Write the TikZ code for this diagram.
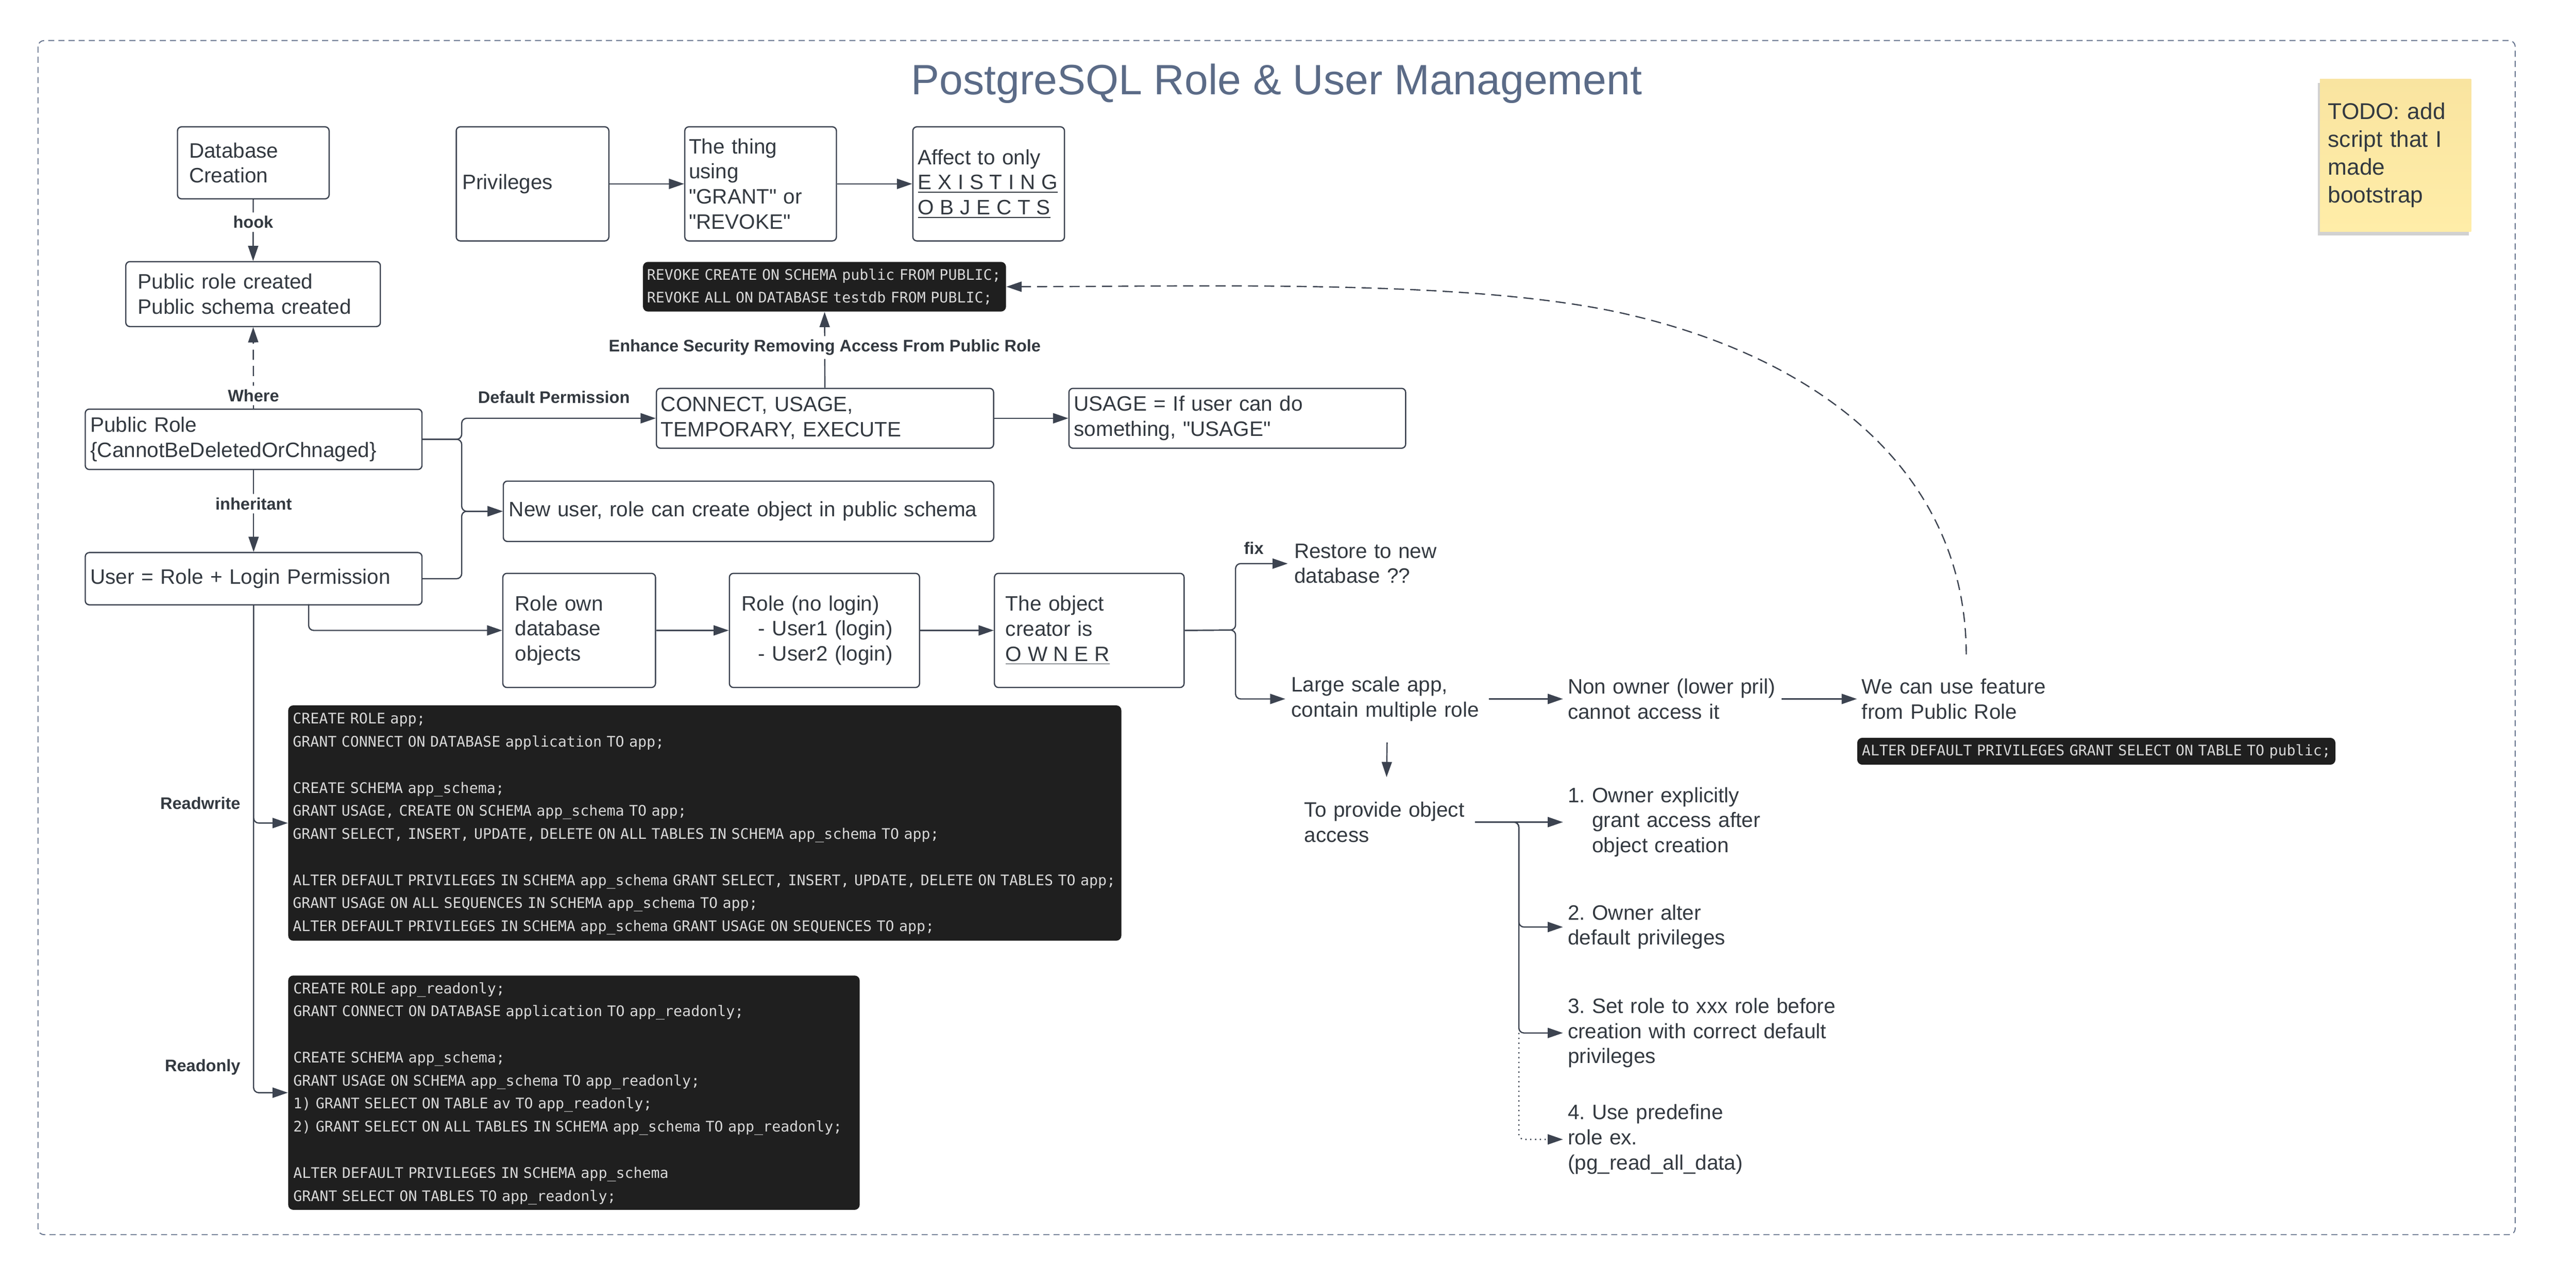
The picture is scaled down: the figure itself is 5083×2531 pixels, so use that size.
\documentclass[tikz,border=0pt]{standalone}
\usepackage{fontspec}
\setmainfont{Liberation Sans}
\newfontfamily\codefam{DejaVu Sans Mono}
\usetikzlibrary{arrows.meta,shadows}
\definecolor{lc}{HTML}{3C4350}
\definecolor{tc}{HTML}{333940}
\definecolor{cbg}{HTML}{1F1F1F}
\definecolor{ctc}{HTML}{D8D8D8}
\definecolor{titc}{HTML}{5B6B87}
\definecolor{frc}{HTML}{62708A}
\definecolor{notetop}{RGB}{249,228,160}
\definecolor{notebot}{RGB}{255,237,168}
\newcommand{\bodyf}{\frenchspacing\fontsize{11.7pt}{14.1pt}\selectfont}
\newcommand{\lblf}{\fontsize{9.4pt}{11pt}\selectfont\bfseries}
\newcommand{\codef}{\codefam\fontsize{8.18pt}{12.94pt}\selectfont}
\newcommand{\titlef}{\fontsize{23.8pt}{28pt}\selectfont}
\newcommand{\notef}{\fontsize{12.8pt}{15.65pt}\selectfont}
\newcommand{\cl}[1]{\begin{tabular}{@{}l@{}}#1\end{tabular}}
\newcommand{\q}{\textquotedbl}
\newcommand{\lsp}{\hspace{0.29em}}
\tikzset{
  box/.style={draw=lc, line width=0.7pt, rounded corners=0.08cm, text=tc, font=\bodyf, align=left, inner ysep=0pt, anchor=north west},
  code/.style={fill=cbg, rounded corners=0.1cm, text=ctc, font=\codef, align=left, inner ysep=0pt, anchor=north west},
  txt/.style={font=\bodyf, text=tc, align=left, inner ysep=0pt},
  lbl/.style={font=\lblf, text=tc, inner sep=2pt},
  onl/.style={lbl, fill=white},
  arr/.style={draw=lc, line width=0.7pt, -{Triangle[length=0.3cm,width=0.2cm]}, rounded corners=0.1cm},
  arrc/.style={draw=lc, line width=0.7pt, -{Triangle[length=0.3cm,width=0.2cm]}},
  dsh/.style={dash pattern=on 0.2cm off 0.12cm},
  frame/.style={draw=frc, line width=0.55pt, dash pattern=on 0.12cm off 0.08cm, rounded corners=0.12cm},
  note/.style={top color=notetop, bottom color=notebot, draw=none, text=tc, font=\notef, align=left, inner ysep=0pt, anchor=north west,
    drop shadow={shadow xshift=-0.04cm, shadow yshift=-0.08cm, opacity=0.18, fill=black}},
}
\begin{document}
\begin{tikzpicture}[x=0.01cm,y=-0.01cm]
\useasboundingbox (0,0) rectangle (5083,2531);
\fill[white] (0,0) rectangle (5083,2531);
\draw[frame] (75,80) rectangle (4963,2436);
\node[font=\titlef, text=titc, anchor=base] (title) at (2519,187) {PostgreSQL Role \& User Management};

% boxes
\node[box, minimum width=2.99cm, minimum height=1.42cm, text width=2.53cm, inner xsep=0.23cm] (dbc) at (349,249) {Database\\Creation};
\node[box, minimum width=5.02cm, minimum height=1.28cm, text width=4.54cm, inner xsep=0.24cm] (puc) at (247,515) {Public role created\\Public schema created};
\node[box, minimum width=6.64cm, minimum height=1.19cm, text width=6.44cm, inner xsep=0.10cm] (pr) at (167,806) {Public Role\\\{CannotBeDeletedOrChnaged\}};
\node[box, minimum width=6.64cm, minimum height=1.03cm, text width=6.44cm, inner xsep=0.10cm] (usr) at (167,1089) {User = Role + Login Permission};
\node[box, minimum width=3.01cm, minimum height=2.25cm, text width=2.77cm, inner xsep=0.12cm] (priv) at (899,249) {Privileges};
\node[box, minimum width=2.99cm, minimum height=2.25cm, text width=2.83cm, inner xsep=0.08cm] (thing) at (1350,249) {The thing\\using\\\q GRANT\q{} or\\\q REVOKE\q};
\node[box, minimum width=2.99cm, minimum height=2.25cm, text width=2.79cm, inner xsep=0.10cm] (aff) at (1800,249) {Affect to only\\\underline{E\lsp X\lsp I\lsp S\lsp T\lsp I\lsp N\lsp G}\\\underline{O\lsp B\lsp J\lsp E\lsp C\lsp T\lsp S}};
\node[code, minimum width=7.16cm, minimum height=0.98cm, text width=7.00cm, inner xsep=0.08cm] (rev) at (1268,516) {\cl{REVOKE CREATE ON SCHEMA public FROM PUBLIC;\\REVOKE ALL ON DATABASE testdb FROM PUBLIC;}};
\node[box, minimum width=6.65cm, minimum height=1.18cm, text width=6.47cm, inner xsep=0.09cm] (con) at (1294,765) {CONNECT, USAGE,\\TEMPORARY, EXECUTE};
\node[box, minimum width=6.64cm, minimum height=1.18cm, text width=6.44cm, inner xsep=0.10cm] (usg) at (2108,765) {USAGE = If user can do\\something, \q USAGE\q};
\node[box, minimum width=9.67cm, minimum height=1.19cm, text width=9.45cm, inner xsep=0.11cm] (nu) at (992,948) {New user, role can create object in public schema};
\node[box, minimum width=3.01cm, minimum height=2.25cm, text width=2.53cm, inner xsep=0.24cm] (own) at (991,1130) {Role own\\database\\objects};
\node[box, minimum width=3.75cm, minimum height=2.25cm, text width=3.27cm, inner xsep=0.24cm] (rnl) at (1438,1130) {Role (no login)\\\hspace*{0.33cm}- User1 (login)\\\hspace*{0.33cm}- User2 (login)};
\node[box, minimum width=3.74cm, minimum height=2.25cm, text width=3.30cm, inner xsep=0.22cm] (obj) at (1961,1130) {The object\\creator is\\\underline{O\lsp W\lsp N\lsp E\lsp R}};

% code blocks
\node[code, minimum width=16.43cm, minimum height=4.64cm, text width=16.25cm, inner xsep=0.09cm] (c1) at (568,1391) {\cl{CREATE ROLE app;\\
GRANT CONNECT ON DATABASE application TO app;\\
\\
CREATE SCHEMA app\_schema;\\
GRANT USAGE, CREATE ON SCHEMA app\_schema TO app;\\
GRANT SELECT, INSERT, UPDATE, DELETE ON ALL TABLES IN SCHEMA app\_schema TO app;\\
\\
ALTER DEFAULT PRIVILEGES IN SCHEMA app\_schema GRANT SELECT, INSERT, UPDATE, DELETE ON TABLES TO app;\\
GRANT USAGE ON ALL SEQUENCES IN SCHEMA app\_schema TO app;\\
ALTER DEFAULT PRIVILEGES IN SCHEMA app\_schema GRANT USAGE ON SEQUENCES TO app;}};
\node[code, minimum width=11.27cm, minimum height=4.62cm, text width=11.07cm, inner xsep=0.10cm] (c2) at (568,1924) {\cl{CREATE ROLE app\_readonly;\\
GRANT CONNECT ON DATABASE application TO app\_readonly;\\
\\
CREATE SCHEMA app\_schema;\\
GRANT USAGE ON SCHEMA app\_schema TO app\_readonly;\\
1) GRANT SELECT ON TABLE av TO app\_readonly;\\
2) GRANT SELECT ON ALL TABLES IN SCHEMA app\_schema TO app\_readonly;\\
\\
ALTER DEFAULT PRIVILEGES IN SCHEMA app\_schema\\
GRANT SELECT ON TABLES TO app\_readonly;}};
\node[code, minimum width=9.43cm, minimum height=0.53cm, text width=9.25cm, inner xsep=0.09cm] (alt) at (3664,1455) {\cl{ALTER DEFAULT PRIVILEGES GRANT SELECT ON TABLE TO public;}};

% free text nodes
\node[txt, anchor=west, text width=3.4cm, inner xsep=0.12cm] (rst) at (2541,1112) {Restore to new\\database ??};
\node[txt, minimum width=4.00cm, minimum height=1.70cm, text width=3.78cm, inner xsep=0.11cm] (lsa) at (2737,1379) {Large scale app,\\contain multiple role};
\node[txt, anchor=west, minimum height=1.2cm, text width=4.12cm, inner xsep=0.09cm] (nown) at (3084,1379) {Non owner (lower pril)\\cannot access it};
\node[txt, anchor=west, minimum height=1.74cm, text width=4.12cm, inner xsep=0.09cm] (wcu) at (3664,1379) {We can use feature\\from Public Role};
\node[txt, minimum width=3.48cm, minimum height=1.76cm, text width=3.24cm, inner xsep=0.12cm] (tpa) at (2736,1622) {To provide object\\access};
\node[txt, anchor=west, text width=5.4cm, inner xsep=0.09cm] (it1) at (3084,1622) {1. Owner explicitly\\\phantom{1. }grant access after\\\phantom{1. }object creation};
\node[txt, anchor=west, text width=5.4cm, inner xsep=0.09cm] (it2) at (3084,1829) {2. Owner alter\\default privileges};
\node[txt, anchor=west, text width=5.4cm, inner xsep=0.09cm] (it3) at (3084,2038) {3. Set role to xxx role before\\creation with correct default\\privileges};
\node[txt, anchor=west, text width=5.4cm, inner xsep=0.09cm] (it4) at (3084,2248) {4. Use predefine\\role ex.\\(pg\_read\_all\_data)};

% sticky note
\node[note, minimum width=2.98cm, minimum height=3.01cm, text width=2.66cm, inner xsep=0.16cm] (todo) at (4577,155) {TODO: add\\script that I\\made\\bootstrap};

% connectors
\draw[arr] (priv) -- (thing);
\draw[arr] (thing) -- (aff);
\draw[arr] (dbc) -- node[onl, pos=0.37] (lhook) {hook} (puc);
\draw[arr, dsh] (pr) -- node[onl, pos=0.16] (lwhere) {Where} (puc);
\draw[arr] (pr) -- node[onl, pos=0.41] (linh) {inheritant} (usr);
\draw[arr] (con) -- node[onl, pos=0.53] (lenh) {Enhance Security Removing Access From Public Role} (rev);
\draw[arr] (con) -- (usg);
\coordinate (pjx) at (911,900);
\draw[arr] (pr.east) -| (pjx |- con.west) -- (con.west);
\draw[arr] (pr.east) -| (pjx |- nu.west) -- (nu.west);
\draw[arr] (usr.east) -| (pjx |- nu.west) -- (nu.west);
\node[lbl] (ldp) at (1093,784) {Default Permission};
\coordinate (us2) at (609,1192);
\draw[arr] (us2) |- (own.west);
\draw[arr] (usr.south) |- (c1.west);
\draw[arr] (usr.south) |- (c2.west);
\node[lbl, anchor=east] (lrw) at (482,1585) {Readwrite};
\node[lbl, anchor=east] (lro) at (482,2105) {Readonly};
\draw[arr] (own) -- (rnl);
\draw[arr] (rnl) -- (obj);
\coordinate (ob) at (2438,1243);
\draw[arr] (obj.east) -- (ob) |- (rst.west);
\draw[arr] (obj.east) -- (ob) |- (lsa.west);
\node[lbl] (lfix) at (2474,1081) {fix};
\draw[arr] (lsa.east) -- (nown.west);
\draw[arr] (nown.east) -- (wcu.west);
\draw[arr] (lsa.south) -- (tpa.north);
\draw[arrc, dsh] (wcu.north) .. controls (3879,942) and (3606,710) .. (3206,619) .. controls (2906,551) and (2400,565) .. (rev.east);
\coordinate (br) at (2997,1622);
\draw[arr] (tpa.east) -- (it1.west);
\draw[arr] (tpa.east) -- (br) |- (it2.west);
\draw[arr] (tpa.east) -- (br) |- (it3.west);
\draw[arr, dotted] (br |- it3.west) |- (it4.west);
\end{tikzpicture}
\end{document}
